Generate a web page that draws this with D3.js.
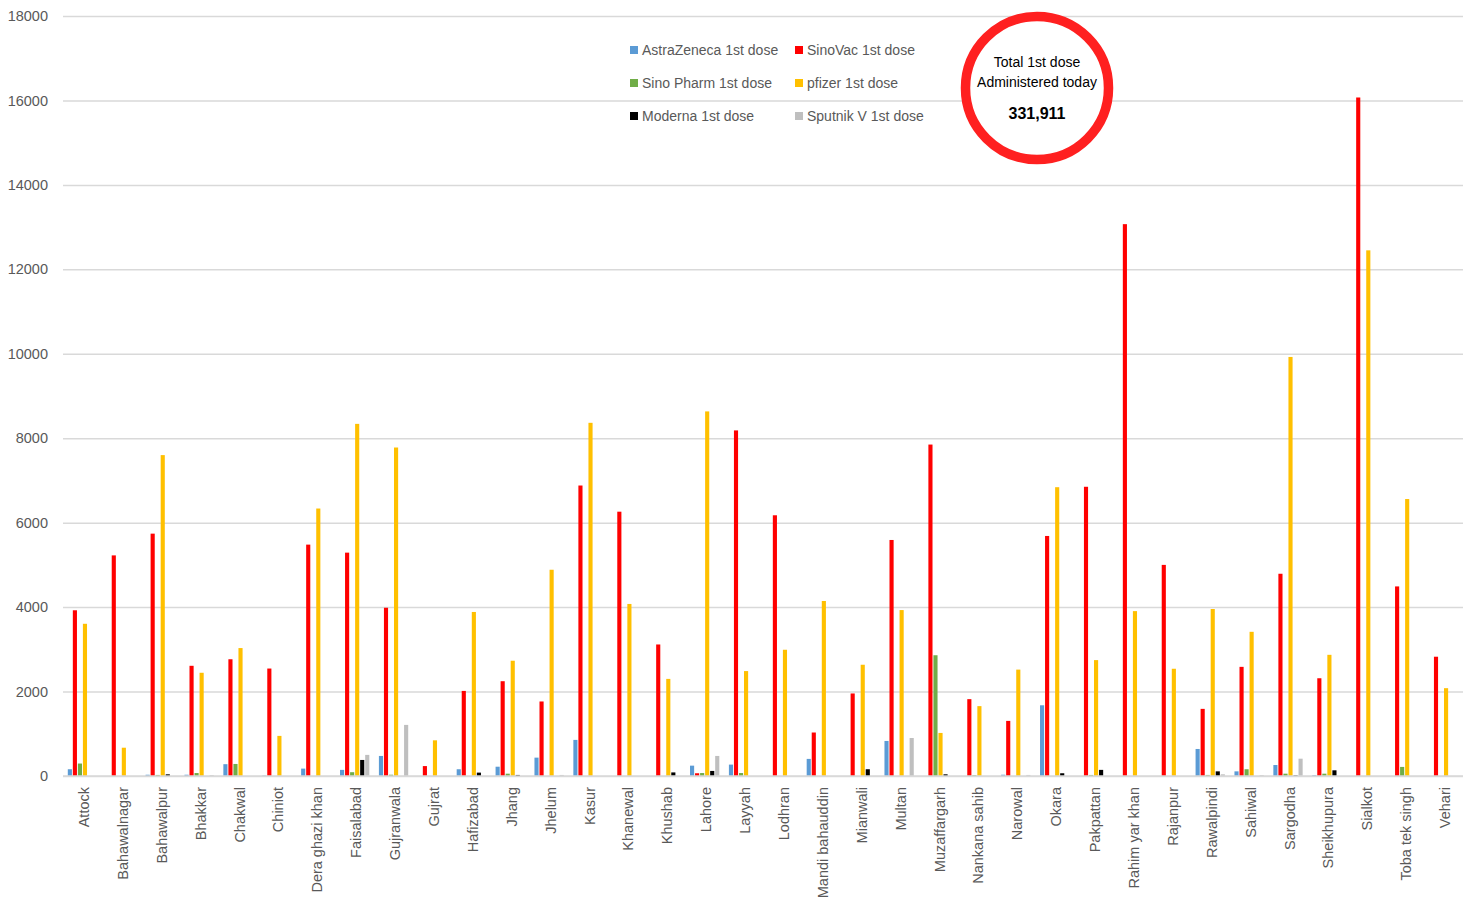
<!DOCTYPE html>
<html>
<head>
<meta charset="utf-8">
<script src="https://cdn.jsdelivr.net/npm/d3@7"></script>
<style>
    body { margin: 0; background: #fff; }
    text { font-family: "Liberation Sans", Arial, sans-serif; }
</style>
</head>
<body>
<script>
// data
var districts = ["Attock", "Bahawalnagar", "Bahawalpur", "Bhakkar", "Chakwal", "Chiniot", "Dera ghazi khan",
    "Faisalabad", "Gujranwala", "Gujrat", "Hafizabad", "Jhang", "Jhelum", "Kasur", "Khanewal", "Khushab",
    "Lahore", "Layyah", "Lodhran", "Mandi bahauddin", "Mianwali", "Multan", "Muzaffargarh", "Nankana sahib",
    "Narowal", "Okara", "Pakpattan", "Rahim yar khan", "Rajanpur", "Rawalpindi", "Sahiwal", "Sargodha",
    "Sheikhupura", "Sialkot", "Toba tek singh", "Vehari"];

var seriesNames = ["AstraZeneca 1st dose", "SinoVac 1st dose", "Sino Pharm 1st dose",
    "pfizer 1st dose", "Moderna 1st dose", "Sputnik V 1st dose"];

var astraZeneca = [160, 0, 30, 30, 280, 10, 175, 145, 475, 0, 160, 220, 435, 855, 0, 0, 245, 270, 0, 405,
    0, 830, 0, 0, 30, 1675, 0, 0, 0, 640, 110, 260, 20, 0, 0, 0];
var sinoVac = [3925, 5225, 5740, 2610, 2765, 2545, 5480, 5290, 3985, 235, 2015, 2245, 1765, 6880, 6260, 3115,
    65, 8185, 6175, 1030, 1955, 5590, 7850, 1820, 1305, 5685, 6850, 13070, 5000, 1590, 2585, 4790, 2315,
    16070, 4490, 2825];
var sinoPharm = [295, 0, 25, 70, 285, 0, 0, 90, 30, 0, 0, 55, 0, 0, 0, 0, 70, 70, 0, 0, 0, 0, 2860, 20,
    0, 0, 25, 0, 0, 25, 160, 55, 55, 0, 215, 0];
var pfizer = [3605, 670, 7600, 2445, 3030, 950, 6335, 8340, 7780, 845, 3885, 2730, 4885, 8365, 4075, 2300,
    8635, 2485, 2990, 4145, 2635, 3930, 1020, 1655, 2520, 6840, 2745, 3905, 2540, 3955, 3415, 9925, 2870,
    12450, 6560, 2080];
var moderna = [0, 0, 40, 0, 0, 0, 0, 380, 0, 0, 80, 25, 0, 0, 0, 85, 120, 0, 0, 0, 160, 0, 40, 0, 0, 65,
    145, 0, 0, 110, 0, 15, 135, 0, 0, 0];
var sputnik = [0, 0, 0, 20, 0, 0, 0, 500, 1210, 0, 0, 0, 25, 0, 0, 0, 475, 0, 0, 0, 0, 900, 0, 0, 25, 0,
    0, 0, 0, 40, 20, 410, 0, 0, 0, 0];

var yTicks = [0, 2000, 4000, 6000, 8000, 10000, 12000, 14000, 16000, 18000];
var totalTitle = ["Total 1st dose", "Administered today"];
var totalValue = "331,911";

var allSeries = [astraZeneca, sinoVac, sinoPharm, pfizer, moderna, sputnik];

var width = 1474,
    height = 901,
    plot = { left: 63, right: 1463, top: 16, bottom: 776 };

var svg = d3.select("body").append("svg")
    .attr("width", width)
    .attr("height", height);

svg.append("rect").attr("width", width).attr("height", height).attr("fill", "#fff");

// scales
var x0 = d3.scaleBand()
    .domain(districts)
    .range([plot.left, plot.right])
    .paddingInner(0.2)
    .paddingOuter(0.1);

var x1 = d3.scaleBand()
    .domain(seriesNames)
    .range([0, x0.bandwidth()])
    .padding(0.18);

var y = d3.scaleLinear()
    .domain([0, 18000])
    .range([plot.bottom, plot.top]);

var z = d3.scaleOrdinal()
    .domain(seriesNames)
    .range(["#5b9bd5", "#ff0000", "#70ad47", "#ffc000", "#000000", "#bfbfbf"]);

// gridlines + y labels
var yAxis = svg.append("g")
    .attr("transform", "translate(" + plot.left + ",0)")
    .call(d3.axisLeft(y).tickValues(yTicks).tickFormat(d3.format("d"))
        .tickSize(-(plot.right - plot.left)).tickPadding(15));

yAxis.select(".domain").remove();
yAxis.selectAll(".tick line")
    .attr("stroke", "#d9d9d9")
    .attr("stroke-width", 1.5);
yAxis.selectAll(".tick text")
    .attr("fill", "#595959")
    .attr("font-size", 14.5)
    .attr("font-family", "Liberation Sans, Arial, sans-serif");

// bars
var rows = districts.map(function (d, i) {
    return { name: d, values: seriesNames.map(function (s, j) { return { key: s, value: allSeries[j][i] }; }) };
});

svg.append("g")
    .selectAll("g")
    .data(rows)
    .enter().append("g")
    .attr("transform", function (d) { return "translate(" + x0(d.name) + ",0)"; })
    .selectAll("rect")
    .data(function (d) { return d.values; })
    .enter().append("rect")
    .attr("x", function (d) { return x1(d.key); })
    .attr("y", function (d) { return y(d.value); })
    .attr("width", x1.bandwidth())
    .attr("height", function (d) { return y(0) - y(d.value); })
    .attr("fill", function (d) { return z(d.key); });

// x axis line and district labels
svg.append("line")
    .attr("x1", plot.left).attr("x2", plot.right)
    .attr("y1", y(0)).attr("y2", y(0))
    .attr("stroke", "#d9d9d9")
    .attr("stroke-width", 1.5);

svg.append("g")
    .selectAll("text")
    .data(districts)
    .enter().append("text")
    .attr("transform", function (d) {
        return "translate(" + (x0(d) + x0.bandwidth() / 2 + 1.5) + "," + (y(0) + 11) + ") rotate(-90)";
    })
    .attr("text-anchor", "end")
    .attr("dy", "0.35em")
    .attr("font-size", 14.5)
    .attr("fill", "#595959")
    .text(function (d) { return d; });

// legend
var legend = svg.append("g")
    .selectAll("g")
    .data(seriesNames)
    .enter().append("g")
    .attr("transform", function (d, i) {
        return "translate(" + (i % 2 ? 795 : 630) + "," + (50 + Math.floor(i / 2) * 33) + ")";
    });

legend.append("rect")
    .attr("y", -4)
    .attr("width", 8)
    .attr("height", 8)
    .attr("fill", z);

legend.append("text")
    .attr("x", 12)
    .attr("dy", "0.35em")
    .attr("font-size", 14)
    .attr("fill", "#595959")
    .text(function (d) { return d; });

// total circle
var badge = svg.append("g").attr("transform", "translate(1037,88)");

badge.append("circle")
    .attr("r", 71.5)
    .attr("fill", "#fff")
    .attr("stroke", "#ff2020")
    .attr("stroke-width", 9.5);

badge.selectAll(".ttl")
    .data(totalTitle)
    .enter().append("text")
    .attr("class", "ttl")
    .attr("y", function (d, i) { return -26 + i * 20; })
    .attr("dy", "0.35em")
    .attr("text-anchor", "middle")
    .attr("font-size", 14)
    .attr("fill", "#000")
    .text(function (d) { return d; });

badge.append("text")
    .attr("y", 25)
    .attr("dy", "0.35em")
    .attr("text-anchor", "middle")
    .attr("font-size", 16)
    .attr("font-weight", "bold")
    .attr("fill", "#000")
    .text(totalValue);
</script>
</body>
</html>
